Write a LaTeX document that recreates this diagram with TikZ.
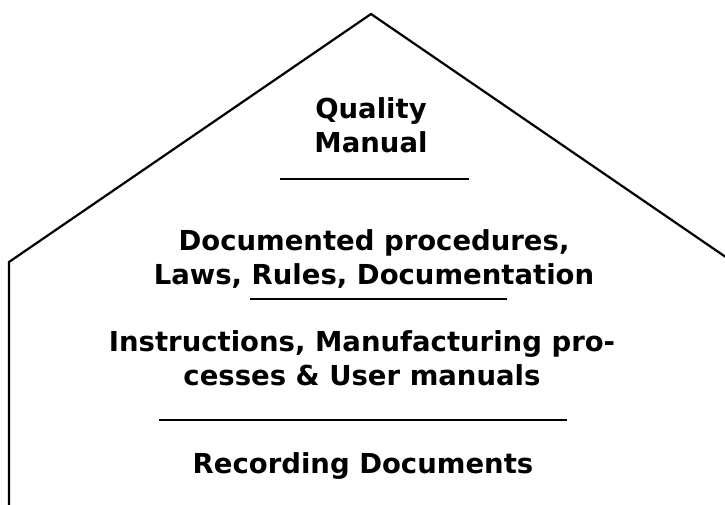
\documentclass[tikz,border=0pt]{standalone}
\usepackage{fontspec}
\setmainfont{DejaVu Sans}
\usepackage{tikz}

\tikzset{
    level/.style={font=\bfseries\fontsize{27.5}{34}\selectfont, align=center, anchor=base, inner sep=0pt},
    sep/.style={line width=2.2pt},
    outline/.style={line width=2.2pt, line join=miter}
}

\begin{document}
\begin{tikzpicture}[x=1pt, y=-1pt]
\useasboundingbox (0,0) rectangle (725,505);

% house outline
\coordinate (roof) at (371,14);
\coordinate (eaveL) at (9,262);
\coordinate (eaveR) at (733,262);
\coordinate (floorL) at (9,506);
\draw[outline] (floorL) -- (eaveL) -- (roof) -- (eaveR);

% levels of documents (base = last line)
\node[level] (qm) at (371,153) {Quality\\Manual};
\node[level] (dp) at (374,284) {Documented procedures,\\Laws, Rules, Documentation};
\node[level] (im) at (362,385) {Instructions, Manufacturing pro-\\cesses \& User manuals};
\node[level] (rd) at (363,473) {Recording Documents};

% separators
\foreach \n/\a/\b/\y in {1/280/469/179, 2/250/507/299, 3/159/567/420}{
    \coordinate (s\n a) at (\a,\y);
    \coordinate (s\n b) at (\b,\y);
    \draw[sep] (s\n a) -- (s\n b);
}
%
\end{tikzpicture}
\end{document}
